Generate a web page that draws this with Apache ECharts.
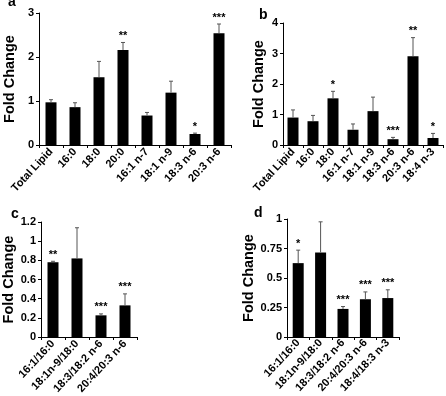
<!DOCTYPE html>
<html>
<head>
<meta charset="utf-8">
<script src="https://cdn.jsdelivr.net/npm/echarts@6/dist/echarts.min.js"></script>
<style>
  html, body { margin: 0; padding: 0; background: #fff; }
  #chart { width: 446px; height: 396px; }
</style>
</head>
<body>
<div id="chart"></div>
<script>
// panel a
var catsA = ["Total Lipid", "16:0", "18:0", "20:0", "16:1 n-7", "18:1 n-9", "18:3 n-6", "20:3 n-6"];
var valsA = [0.97, 0.86, 1.54, 2.16, 0.67, 1.19, 0.25, 2.54];
var errA = [0.06, 0.10, 0.36, 0.17, 0.07, 0.26, 0.02, 0.21];
var sigA = ["", "", "", "**", "", "", "*", "***"];
var ticksA = [0, 3, 1];

// panel b
var catsB = ["Total Lipid", "16:0", "18:0", "16:1 n-7", "18:1 n-9", "18:3 n-6", "20:3 n-6", "18:4 n-3"];
var valsB = [0.90, 0.78, 1.53, 0.50, 1.11, 0.19, 2.91, 0.23];
var errB = [0.25, 0.19, 0.23, 0.19, 0.46, 0.06, 0.61, 0.15];
var sigB = ["", "", "*", "", "", "***", "**", "*"];
var ticksB = [0, 4, 1];

// panel c
var catsC = ["16:1/16:0", "18:1n-9/18:0", "18:3/18:2 n-6", "20:4/20:3 n-6"];
var valsC = [0.78, 0.82, 0.226, 0.33];
var errC = [0.01, 0.32, 0.015, 0.12];
var sigC = ["**", "", "***", "***"];
var ticksC = [0, 1.2, 0.2];

// panel d
var catsD = ["16:1/16:0", "18:1n-9/18:0", "18:3/18:2 n-6", "20:4/20:3 n-6", "18:4/18:3 n-3"];
var valsD = [0.626, 0.716, 0.238, 0.32, 0.33];
var errD = [0.11, 0.26, 0.02, 0.062, 0.07];
var sigD = ["*", "", "***", "***", "***"];
var ticksD = [0, 1, 0.25];

var FONT = '"Liberation Sans", Arial, sans-serif';

var myChart = echarts.init(document.getElementById("chart"));

function xAx(idx, cats, margin) {
  return {
    type: "category", gridIndex: idx, data: cats,
    axisLine: { lineStyle: { color: "#000", width: 1 } },
    axisTick: { show: true, length: 3, lineStyle: { color: "#000" } },
    axisLabel: {
      interval: 0, rotate: 47, margin: margin, color: "#000",
      fontFamily: FONT, fontWeight: "bold", fontSize: 11
    },
    splitLine: { show: false }
  };
}

function yAx(idx, t, gap) {
  return {
    type: "value", gridIndex: idx, min: t[0], max: t[1], interval: t[2],
    name: "Fold Change", nameLocation: "middle", nameGap: gap,
    nameTextStyle: { color: "#000", fontFamily: FONT, fontWeight: "bold", fontSize: 14.5 },
    axisLine: { show: true, lineStyle: { color: "#000", width: 1 } },
    axisTick: { show: true, length: 3, lineStyle: { color: "#000" } },
    axisLabel: { margin: 5, color: "#000", fontFamily: FONT, fontWeight: "bold", fontSize: 11 },
    splitLine: { show: false }
  };
}

function barSeries(idx, vals) {
  return {
    type: "bar", xAxisIndex: idx, yAxisIndex: idx, data: vals,
    barWidth: 11, itemStyle: { color: "#000" }, silent: true
  };
}

function errSeries(idx, vals, errs, sig) {
  return {
    type: "custom", xAxisIndex: idx, yAxisIndex: idx, z: 3, silent: true,
    data: vals.map(function (v, i) { return [i, v, v + errs[i]]; }),
    renderItem: function (params, api) {
      var base = api.coord([api.value(0), api.value(1)]);
      var top = api.coord([api.value(0), api.value(2)]);
      var kids = [
        { type: "line", shape: { x1: base[0], y1: base[1], x2: top[0], y2: top[1] },
          style: { stroke: "#555", lineWidth: 1 } },
        { type: "line", shape: { x1: top[0] - 2, y1: top[1], x2: top[0] + 2, y2: top[1] },
          style: { stroke: "#555", lineWidth: 1 } }
      ];
      var s = sig[params.dataIndex];
      if (s) {
        kids.push({ type: "text", x: top[0], y: top[1] - 1,
          style: { text: s, align: "center", verticalAlign: "bottom", fill: "#000",
                   font: "bold 11px " + FONT } });
      }
      return { type: "group", children: kids };
    }
  };
}

function letter(t, x, y) {
  return { type: "text", left: x, top: y,
    style: { text: t, fill: "#000", font: "bold 14px " + FONT } };
}

var option = {
  backgroundColor: "#fff",
  animation: false,
  grid: [
    { left: 39, right: 215, top: 13, bottom: 251, outerBoundsMode: "none" },
    { left: 283, right: 3, top: 23, bottom: 251, outerBoundsMode: "none" },
    { left: 41, right: 309, top: 222, bottom: 59, outerBoundsMode: "none" },
    { left: 287, right: 47, top: 219, bottom: 59, outerBoundsMode: "none" }
  ],
  xAxis: [xAx(0, catsA, 5), xAx(1, catsB, 5), xAx(2, catsC, 5), xAx(3, catsD, 4)],
  yAxis: [yAx(0, ticksA, 22), yAx(1, ticksB, 17), yAx(2, ticksC, 24), yAx(3, ticksD, 30)],
  series: [
    barSeries(0, valsA), errSeries(0, valsA, errA, sigA),
    barSeries(1, valsB), errSeries(1, valsB, errB, sigB),
    barSeries(2, valsC), errSeries(2, valsC, errC, sigC),
    barSeries(3, valsD), errSeries(3, valsD, errD, sigD)
  ],
  graphic: [
    letter("a", 8, -5),
    letter("b", 259, 8),
    letter("c", 11, 207),
    letter("d", 254, 206)
  ]
};

myChart.setOption(option);
window.onresize = function () {
  myChart.resize();
};
</script>
</body>
</html>
